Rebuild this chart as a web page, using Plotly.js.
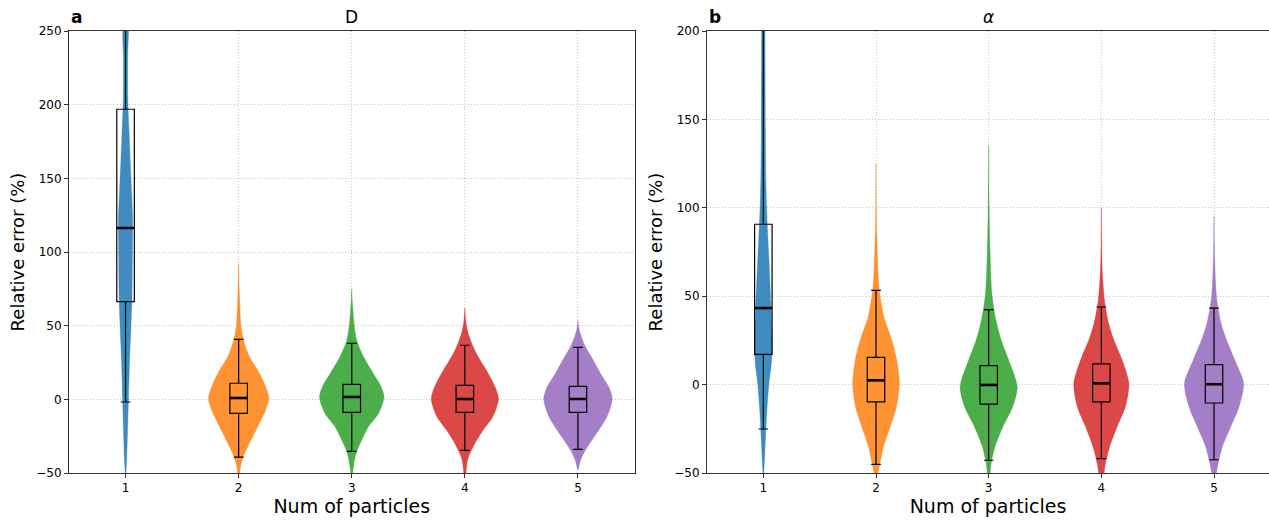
<!DOCTYPE html>
<html>
<head>
<meta charset="utf-8">
<script src="https://cdn.plot.ly/plotly-3.0.1.min.js"></script>
<style>html,body{margin:0;padding:0;background:#fff;}#chart{width:1269px;height:520px;}</style>
</head>
<body>
<div id="chart"></div>
<script>
// ---------- data ----------
const categories = [1, 2, 3, 4, 5];
const tickLabels = ['1', '2', '3', '4', '5'];
const colors = ['rgba(31,119,180,0.85)', 'rgba(255,127,14,0.85)', 'rgba(44,160,44,0.85)', 'rgba(214,39,40,0.85)', 'rgba(148,103,189,0.85)'];

// Panel a : D  (box statistics, relative error %)
const dQ1 = [66.3, -9.5, -8.8, -8.8, -8.8];
const dMedian = [116.3, 0.9, 1.6, 0.2, 0.2];
const dQ3 = [196.9, 10.9, 10.2, 9.5, 8.8];
const dLowerWhisker = [-1.8, -39.2, -35.3, -34.6, -33.9];
const dUpperWhisker = [420, 40.7, 38.0, 36.7, 35.3];

// Panel b : alpha
const aQ1 = [17.1, -9.8, -11.0, -9.8, -10.4];
const aMedian = [43.3, 2.4, -0.2, 0.7, 0.2];
const aQ3 = [90.7, 15.4, 10.7, 11.7, 11.3];
const aLowerWhisker = [-25.1, -45.1, -42.8, -41.9, -42.5];
const aUpperWhisker = [260, 53.3, 42.4, 43.9, 43.3];

// Violin density profiles (y level, half width in category units)
const dV1Y = [-52, -42, -20, 3, 26, 48, 67, 95, 123, 143, 162, 183, 203, 229, 260];
const dV1W = [0, 0.009, 0.018, 0.027, 0.035, 0.047, 0.056, 0.060, 0.062, 0.052, 0.041, 0.030, 0.020, 0.018, 0.015];
const dV2Y = [-52, -43.5, -36.7, -27.6, -18.6, -7.3, 0.7, 8.6, 17.6, 29, 40, 50, 63, 75, 92];
const dV2W = [0.006, 0.022, 0.053, 0.11, 0.168, 0.238, 0.267, 0.238, 0.184, 0.095, 0.044, 0.02, 0.011, 0.005, 0];
const dV3Y = [-52, -45.7, -36.7, -27.6, -18.6, -9.6, 1.6, 10, 17.6, 29, 40, 50, 58, 66, 75];
const dV3W = [0.005, 0.015, 0.038, 0.088, 0.147, 0.236, 0.285, 0.25, 0.19, 0.103, 0.044, 0.022, 0.013, 0.005, 0];
const dV4Y = [-52, -41.2, -34.4, -27.6, -20.8, -11.8, 0, 8, 17.6, 29, 35.7, 44.8, 52, 62];
const dV4W = [0.008, 0.024, 0.059, 0.106, 0.162, 0.247, 0.297, 0.27, 0.206, 0.117, 0.073, 0.029, 0.01, 0];
const dV5Y = [-48, -41.2, -34.4, -27.6, -20.8, -11.8, 0, 8, 17.6, 29, 35.7, 42.5, 48, 54];
const dV5W = [0, 0.024, 0.066, 0.124, 0.184, 0.256, 0.302, 0.275, 0.199, 0.117, 0.066, 0.029, 0.009, 0];

const aV1Y = [-52, -34, -15, 2, 10, 20, 32, 43, 70, 96, 117, 145, 200, 215];
const aV1W = [0, 0.016, 0.031, 0.052, 0.068, 0.078, 0.074, 0.068, 0.050, 0.031, 0.022, 0.018, 0.015, 0.014];
const aV2Y = [-52, -44.5, -35.1, -23.8, -12.5, 0.7, 13.9, 25.2, 38.4, 53.5, 65, 76, 88, 100, 125];
const aV2W = [0.012, 0.034, 0.067, 0.126, 0.182, 0.207, 0.184, 0.14, 0.069, 0.029, 0.017, 0.011, 0.005, 0.002, 0];
const aV3Y = [-52, -44.5, -35.1, -23.8, -12.5, -1.2, 13.9, 25.2, 36.5, 51.6, 76, 96, 120, 135];
const aV3W = [0.009, 0.022, 0.056, 0.126, 0.213, 0.253, 0.177, 0.111, 0.064, 0.028, 0.012, 0.005, 0.0015, 0];
const aV4Y = [-52, -44.5, -35.1, -23.8, -12.5, 0.7, 13.9, 25.2, 34.7, 47.8, 57, 66, 80, 100];
const aV4W = [0.02, 0.037, 0.074, 0.14, 0.213, 0.244, 0.184, 0.111, 0.064, 0.027, 0.015, 0.007, 0.0025, 0];
const aV5Y = [-52, -44.5, -35.1, -23.8, -12.5, 0.7, 13.9, 25.2, 34.7, 47.8, 57, 70, 81, 95];
const aV5W = [0.015, 0.037, 0.074, 0.148, 0.222, 0.262, 0.184, 0.111, 0.062, 0.025, 0.014, 0.006, 0.0025, 0];

const dViolins = [[dV1Y, dV1W], [dV2Y, dV2W], [dV3Y, dV3W], [dV4Y, dV4W], [dV5Y, dV5W]];
const aViolins = [[aV1Y, aV1W], [aV2Y, aV2W], [aV3Y, aV3W], [aV4Y, aV4W], [aV5Y, aV5W]];

// ---------- build traces ----------
const FONT = 'DejaVu Sans';
const BOX_W = 0.155;
const traces = [];

function violinTraces(profiles, xa, ya) {
  profiles.forEach(function (p, i) {
    const c = categories[i];
    const ys = p[0], ws = p[1];
    const xs = [], yy = [];
    for (let k = 0; k < ys.length; k++) { xs.push(c + ws[k]); yy.push(ys[k]); }
    for (let k = ys.length - 1; k >= 0; k--) { xs.push(c - ws[k]); yy.push(ys[k]); }
    traces.push({
      type: 'scatter', mode: 'lines', x: xs, y: yy, xaxis: xa, yaxis: ya,
      fill: 'toself', fillcolor: colors[i],
      line: {color: colors[i], width: 0.4, shape: 'spline', smoothing: 0.8},
      hoverinfo: 'skip', showlegend: false
    });
  });
}

function boxTraces(q1, med, q3, lo, hi, xa, ya) {
  traces.push({
    type: 'box', x: categories, q1: q1, median: med, q3: q3,
    lowerfence: lo, upperfence: hi, xaxis: xa, yaxis: ya,
    width: BOX_W, whiskerwidth: 0.55, boxpoints: false,
    fillcolor: 'rgba(0,0,0,0)', line: {color: '#000', width: 1.2},
    showlegend: false
  });
  const mx = [], my = [];
  categories.forEach(function (c, i) {
    mx.push(c - BOX_W / 2, c + BOX_W / 2, null);
    my.push(med[i], med[i], null);
  });
  traces.push({
    type: 'scatter', mode: 'lines', x: mx, y: my, xaxis: xa, yaxis: ya,
    line: {color: '#000', width: 2.6}, hoverinfo: 'skip', showlegend: false
  });
}

violinTraces(dViolins, 'x', 'y');
violinTraces(aViolins, 'x2', 'y2');
boxTraces(dQ1, dMedian, dQ3, dLowerWhisker, dUpperWhisker, 'x3', 'y3');
boxTraces(aQ1, aMedian, aQ3, aLowerWhisker, aUpperWhisker, 'x4', 'y4');

// ---------- layout ----------
const xRangeA = [0.5, 5.5];
const xRangeB = [0.5, 5.488];
const yRangeA = [-50, 250];
const yRangeB = [-50, 200];
const GRID = '#c4c4c4';
const GRID_DASH = '1px,2px';

function xAxis(domain, range, anchor, mirror) {
  return {
    domain: domain, range: range, anchor: anchor,
    tickmode: 'array', tickvals: categories, ticktext: tickLabels,
    ticks: 'outside', ticklen: 4, tickwidth: 1, tickcolor: '#333',
    showline: true, linecolor: '#333', linewidth: 1, mirror: mirror,
    showgrid: true, gridcolor: GRID, gridwidth: 1, griddash: GRID_DASH,
    zeroline: false, tickfont: {family: FONT, size: 12, color: '#000'},
    title: {text: 'Num of particles', font: {family: FONT, size: 19, color: '#000'}, standoff: 5}
  };
}
function yAxis(range, anchor, mirror) {
  return {
    range: range, anchor: anchor, dtick: 50, tick0: 0,
    ticks: 'outside', ticklen: 4, tickwidth: 1, tickcolor: '#333',
    showline: true, linecolor: '#333', linewidth: 1, mirror: mirror,
    showgrid: true, gridcolor: GRID, gridwidth: 1, griddash: GRID_DASH,
    zeroline: false, tickfont: {family: FONT, size: 12, color: '#000'},
    title: {text: 'Relative error (%)', font: {family: FONT, size: 18, color: '#000'}, standoff: 6}
  };
}
function hidden(range, overlaying, anchor) {
  return {range: range, overlaying: overlaying, anchor: anchor, visible: false, fixedrange: true};
}

const domA = [0, 0.47125];
const domB = [0.53167, 1];

const layout = {
  width: 1269, height: 520,
  margin: {l: 69, r: 0, t: 31, b: 47},
  paper_bgcolor: '#fff', plot_bgcolor: '#fff',
  font: {family: FONT, color: '#000'},
  showlegend: false,
  xaxis: xAxis(domA, xRangeA, 'y', true),
  yaxis: yAxis(yRangeA, 'x', true),
  xaxis2: xAxis(domB, xRangeB, 'y2', true),
  yaxis2: yAxis(yRangeB, 'x2', false),
  xaxis3: hidden(xRangeA, 'x', 'y3'),
  yaxis3: hidden(yRangeA, 'y', 'x3'),
  xaxis4: hidden(xRangeB, 'x2', 'y4'),
  yaxis4: hidden(yRangeB, 'y2', 'x4'),
  annotations: [
    {text: 'D', xref: 'x domain', yref: 'y domain', x: 0.5, y: 1, xanchor: 'center', yanchor: 'bottom', yshift: 2, showarrow: false, font: {family: FONT, size: 17}},
    {text: '<b>a</b>', xref: 'x domain', yref: 'y domain', x: 0, y: 1, xanchor: 'left', yanchor: 'bottom', yshift: 2, showarrow: false, font: {family: FONT, size: 17}},
    {text: '<i>α</i>', xref: 'x2 domain', yref: 'y2 domain', x: 0.5, y: 1, xanchor: 'center', yanchor: 'bottom', yshift: 2, showarrow: false, font: {family: FONT, size: 17}},
    {text: '<b>b</b>', xref: 'x2 domain', yref: 'y2 domain', x: 0, y: 1, xanchor: 'left', yanchor: 'bottom', yshift: 2, showarrow: false, font: {family: FONT, size: 17}}
  ]
};

Plotly.newPlot('chart', traces, layout, {displayModeBar: false, staticPlot: true});
</script>
</body>
</html>
